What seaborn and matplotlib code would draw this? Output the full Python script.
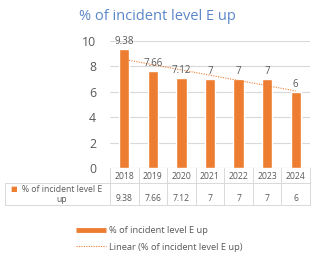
import numpy as np
import pandas as pd
import seaborn as sns
import matplotlib.pyplot as plt
from matplotlib.lines import Line2D
from matplotlib.transforms import blended_transform_factory

years = ['2018', '2019', '2020', '2021', '2022', '2023', '2024']
values = [9.38, 7.66, 7.12, 7, 7, 7, 6]
value_labels = ['9.38', '7.66', '7.12', '7', '7', '7', '6']
series_name = '% of incident level E up'

ORANGE = '#ED7D31'
GRID = '#D9D9D9'
TXT = '#595959'

sns.set_style('white')
plt.rcParams['font.family'] = ['Open Sans', 'DejaVu Sans']

df = pd.DataFrame({'year': years, 'value': values})

fig = plt.figure(figsize=(3.15, 2.58), dpi=100)
ax = fig.add_axes([110 / 315, 1 - 168 / 258, 200 / 315, 127 / 258])

sns.barplot(data=df, x='year', y='value', color=ORANGE, saturation=1, width=0.36, ax=ax, zorder=2)

# linear trendline
xs = np.arange(len(values))
slope, icept = np.polyfit(xs, values, 1)
ax.plot(xs, slope * xs + icept, color=ORANGE, lw=0.8, ls=(0, (1, 1.2)), zorder=3)

for i, lab in enumerate(value_labels):
    ax.text(i, values[i] + 0.15, lab, ha='center', va='bottom', fontsize=7, color=TXT, zorder=4)

ax.set_ylim(0, 10)
ax.set_xlim(-0.5, len(years) - 0.5)
ax.set_yticks(np.arange(0, 11, 2))
ax.yaxis.grid(True, color=GRID, lw=0.8, zorder=0)
ax.tick_params(axis='y', labelsize=8.8, colors=TXT, length=0, pad=10)
ax.set_xticks([])
ax.set_xlabel('')
ax.set_ylabel('')
for s in ax.spines.values():
    s.set_visible(False)
ax.axhline(0, color=GRID, lw=0.8, zorder=1)

fig.text(157 / 315, 1 - 17 / 258, series_name, color='#5B87C9', fontsize=10.5, ha='center', va='center')

# data table under the plot
tr = blended_transform_factory(ax.transData, ax.transAxes)
y_head = -0.07
y_val = -0.24
y_bot = -0.29
for i, yr in enumerate(years):
    ax.text(i, y_head, yr, transform=tr, ha='center', va='center', fontsize=6.2, color=TXT, clip_on=False)
    ax.text(i, y_val, value_labels[i], transform=tr, ha='center', va='center', fontsize=6.2, color=TXT, clip_on=False)
for b in np.arange(-0.5, len(years), 1.0):
    ax.plot([b, b], [0, y_bot], transform=tr, color=GRID, lw=0.7, clip_on=False)
ax.plot([-0.5, len(years) - 0.5], [y_bot, y_bot], transform=tr, color=GRID, lw=0.7, clip_on=False)
fig.add_artist(Line2D([5 / 315, 310 / 315], [1 - 183 / 258] * 2, color=GRID, lw=0.7))
fig.add_artist(Line2D([5 / 315, 110 / 315], [1 - 205 / 258] * 2, color=GRID, lw=0.7))
fig.add_artist(Line2D([5 / 315, 5 / 315], [1 - 183 / 258, 1 - 205 / 258], color=GRID, lw=0.7))
fig.text(10 / 315, 1 - 189 / 258, '\u25A0', color=ORANGE, fontsize=5, ha='left', va='center')
fig.text(62 / 315, 1 - 189 / 258, '% of incident level E', color=TXT, fontsize=6.2, ha='center', va='center')
fig.text(62 / 315, 1 - 199 / 258, 'up', color=TXT, fontsize=6.2, ha='center', va='center')

handles = [Line2D([0], [0], color=ORANGE, lw=3.5, solid_capstyle='butt'),
           Line2D([0], [0], color=ORANGE, lw=0.8, ls=(0, (1, 1.2)))]
fig.legend(handles, [series_name, 'Linear (' + series_name + ')'], loc='center left',
           bbox_to_anchor=(68 / 315, 1 - 239 / 258), frameon=False, fontsize=6.7,
           labelcolor=TXT, handlelength=3.2, handletextpad=0.3, labelspacing=0.8)

fig.savefig('out.png', dpi=100)
